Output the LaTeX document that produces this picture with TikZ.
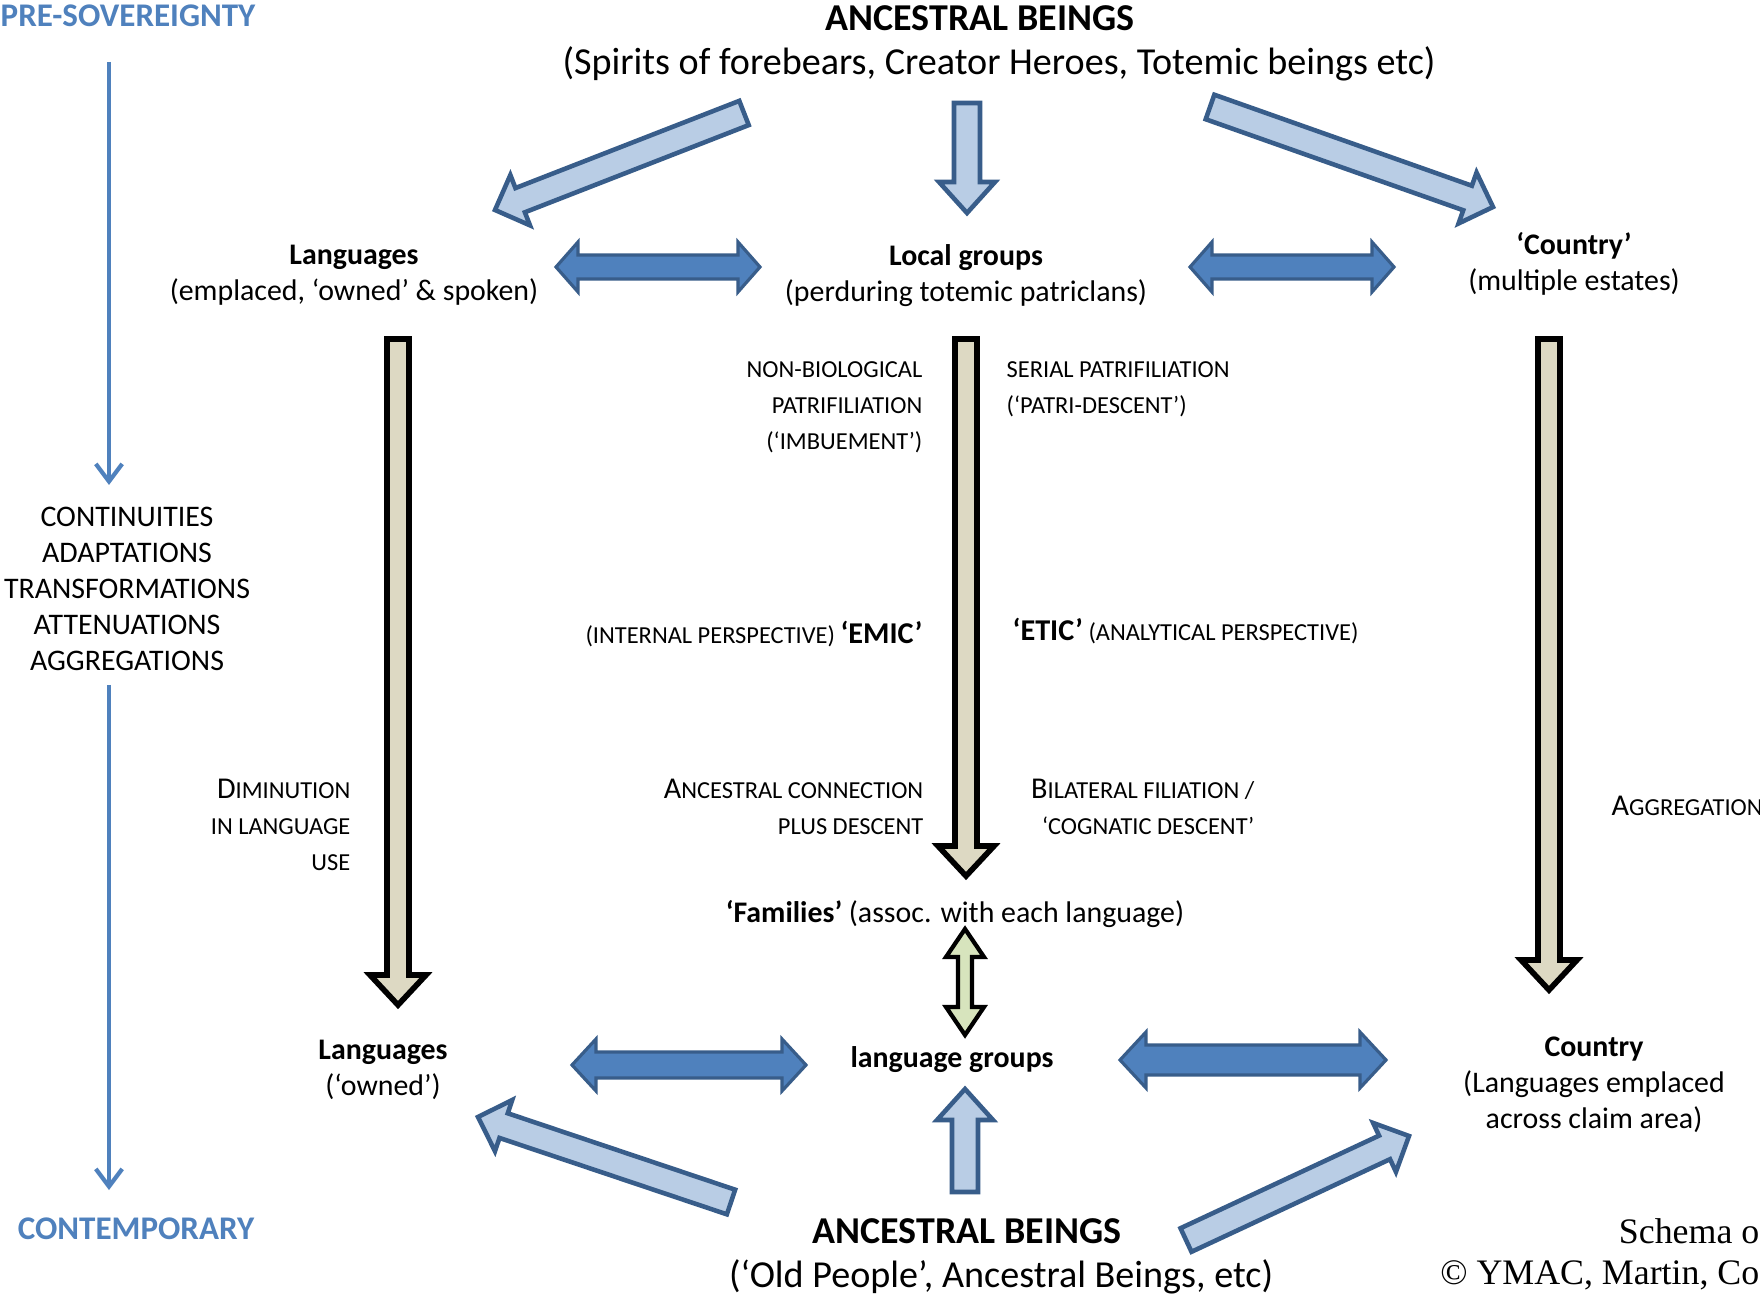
\documentclass[tikz,border=0pt]{standalone}
\usepackage{fontspec}
\setmainfont{Carlito}
\newfontfamily\serifcap{Liberation Serif}
\usetikzlibrary{calc,arrows.meta}

\definecolor{tlblue}{RGB}{79,129,189}
\definecolor{paleblue}{RGB}{185,205,229}
\definecolor{edgeblue}{RGB}{56,93,138}
\definecolor{khaki}{RGB}{221,217,195}
\definecolor{palegreen}{RGB}{215,228,189}

\newcommand\initcap[1]{{\fontsize{8.6}{10.2}\selectfont #1}}
% block arrow: style, tail, tip, shaft half width, head half width, head length
\newcommand\fatarrow[6]{%
  \coordinate (fh) at ($(#3)!#6*0.1mm!(#2)$);
  \draw[#1] ($(#2)!#4*0.1mm!90:(#3)$) -- ($(fh)!#4*0.1mm!90:(#3)$)
    -- ($(fh)!#5*0.1mm!90:(#3)$) -- (#3) -- ($(fh)!#5*0.1mm!-90:(#3)$)
    -- ($(fh)!#4*0.1mm!-90:(#3)$) -- ($(#2)!#4*0.1mm!-90:(#3)$) -- cycle;}
\newcommand\fatboth[6]{%
  \coordinate (fa) at ($(#2)!#6*0.1mm!(#3)$);
  \coordinate (fb) at ($(#3)!#6*0.1mm!(#2)$);
  \draw[#1] (#2) -- ($(fa)!#5*0.1mm!90:(#3)$) -- ($(fa)!#4*0.1mm!90:(#3)$)
    -- ($(fb)!#4*0.1mm!90:(#3)$) -- ($(fb)!#5*0.1mm!90:(#3)$) -- (#3)
    -- ($(fb)!#5*0.1mm!-90:(#3)$) -- ($(fb)!#4*0.1mm!-90:(#3)$)
    -- ($(fa)!#4*0.1mm!-90:(#3)$) -- ($(fa)!#5*0.1mm!-90:(#3)$) -- cycle;}

\begin{document}
\begin{tikzpicture}[x=0.1mm,y=-0.1mm,
  every node/.style={inner sep=0pt},
  era/.style={font=\bfseries\fontsize{9.4}{11}\selectfont,text=tlblue},
  ancestral/.style={font=\bfseries\fontsize{10.8}{13}\selectfont},
  gloss/.style={font=\fontsize{10.85}{13}\selectfont},
  entity/.style={font=\fontsize{8.5}{10.2}\selectfont,align=center},
  sclabel/.style={font=\fontsize{6.95}{10.2}\selectfont},
  credit/.style={font=\serifcap\fontsize{10.2}{12.4}\selectfont},
  pale/.style={fill=paleblue,draw=edgeblue,line width=1.3pt},
  linkarr/.style={fill=tlblue,draw=edgeblue,line width=0.9pt},
  descent/.style={fill=khaki,draw=black,line width=1.6pt},
  kin/.style={fill=palegreen,draw=black,line width=1.2pt},
  timeline/.style={draw=tlblue,line width=1.1pt,->},
  >={Straight Barb[length=5pt,width=7.5pt,line width=1.2pt]}]
\useasboundingbox (0,0) rectangle (1760,1296);
\fill[white] (0,0) rectangle (1760,1296);

\node[era,anchor=west] (pre) at (0,16) {PRE-SOVEREIGNTY};
\node[entity] (change) at (127,589) {CONTINUITIES\\ADAPTATIONS\\TRANSFORMATIONS\\ATTENUATIONS\\AGGREGATIONS};
\node[era] (now) at (136,1229) {CONTEMPORARY};

\node[ancestral] (anctop) at (980,18) {ANCESTRAL BEINGS};
\node[gloss] (spirits) at (999,64) {(Spirits of forebears, Creator Heroes, Totemic beings etc)};
\node[entity] (lang) at (354,275) {\textbf{Languages}\\(emplaced, ‘owned’ \& spoken)};
\node[entity] (local) at (966,276) {\textbf{Local groups}\\(perduring totemic patriclans)};
\node[entity] (country) at (1574,264) {\textbf{‘Country’}\\(multiple estates)};

\node[sclabel,anchor=east,align=right] (imbue) at (923,407) {NON-BIOLOGICAL\\PATRIFILIATION\\(‘IMBUEMENT’)};
\node[sclabel,anchor=west,align=left] (serial) at (1006,389) {SERIAL PATRIFILIATION\\(‘PATRI-DESCENT’)};
\node[sclabel,anchor=east] (emic) at (923,634) {(INTERNAL PERSPECTIVE) \initcap{\textbf{‘EMIC’}}};
\node[sclabel,anchor=west] (etic) at (1012,631) {\initcap{\textbf{‘ETIC’}} (ANALYTICAL PERSPECTIVE)};
\node[sclabel,anchor=east,align=right] (plus) at (924,807) {\initcap{A}NCESTRAL CONNECTION\\PLUS DESCENT};
\node[sclabel,anchor=east,align=right] (bilat) at (1255,807) {\initcap{B}ILATERAL FILIATION /\\‘COGNATIC DESCENT’};
\node[sclabel,anchor=east,align=right] (dimin) at (351,825) {\initcap{D}IMINUTION\\IN LANGUAGE\\USE};
\node[sclabel,anchor=west] (aggr) at (1611,806) {\initcap{A}GGREGATION};

\node[entity] (fam) at (955,914) {\textbf{‘Families’} (assoc. with each language)};
\node[entity] (lgroups) at (952,1060) {\textbf{language groups}};
\node[entity] (langb) at (383,1070) {\textbf{Languages}\\(‘owned’)};
\node[entity] (ctry) at (1594,1085) {\textbf{Country}\\(Languages emplaced\\across claim area)};
\node[ancestral] (ancbot) at (967,1231) {ANCESTRAL BEINGS};
\node[gloss] (old) at (1001,1277) {(‘Old People’, Ancestral Beings, etc)};
\node[credit,anchor=east] (schema) at (1760,1231) {Schema o};
\node[credit,anchor=east] (copy) at (1760,1275) {© YMAC, Martin, Co};

\coordinate (t1) at (109,62);  \coordinate (t2) at (109,485);
\coordinate (t3) at (109,685); \coordinate (t4) at (109,1190);
\draw[timeline] (t1) -- (t2);
\draw[timeline] (t3) -- (t4);

\coordinate (ul1) at (744,113);  \coordinate (ul2) at (495,210);
\coordinate (uc1) at (967,103);  \coordinate (uc2) at (967,213);
\coordinate (ur1) at (1210,107); \coordinate (ur2) at (1493,207);
\coordinate (bl1) at (731,1202); \coordinate (bl2) at (478,1117);
\coordinate (bc1) at (965,1192); \coordinate (bc2) at (965,1089);
\coordinate (br1) at (1186,1240); \coordinate (br2) at (1409,1136);
\fatarrow{pale}{ul1}{ul2}{13}{27}{27}
\fatarrow{pale}{uc1}{uc2}{13}{28}{31}
\fatarrow{pale}{ur1}{ur2}{13}{27}{27}
\fatarrow{pale}{bl1}{bl2}{13}{27}{27}
\fatarrow{pale}{bc1}{bc2}{13}{28}{31}
\fatarrow{pale}{br1}{br2}{13}{27}{27}

\coordinate (dl1) at (556,267);  \coordinate (dl2) at (760,267);
\coordinate (dr1) at (1190,267); \coordinate (dr2) at (1394,267);
\coordinate (el1) at (572,1065); \coordinate (el2) at (806,1065);
\coordinate (er1) at (1120,1060); \coordinate (er2) at (1386,1060);
\fatboth{linkarr}{dl1}{dl2}{12}{25}{22}
\fatboth{linkarr}{dr1}{dr2}{12}{25}{22}
\fatboth{linkarr}{el1}{el2}{13}{26}{24}
\fatboth{linkarr}{er1}{er2}{15}{28}{26}
\coordinate (k1) at (965,929); \coordinate (k2) at (965,1035);
\fatboth{kin}{k1}{k2}{7}{19}{28}

\coordinate (sl1) at (398,339);  \coordinate (sl2) at (398,1005);
\coordinate (sc1) at (966,339);  \coordinate (sc2) at (966,876);
\coordinate (sr1) at (1549,339); \coordinate (sr2) at (1549,990);
\fatarrow{descent}{sl1}{sl2}{11}{28}{30}
\fatarrow{descent}{sc1}{sc2}{11}{28}{30}
\fatarrow{descent}{sr1}{sr2}{11}{28}{30}
\end{tikzpicture}
\end{document}
